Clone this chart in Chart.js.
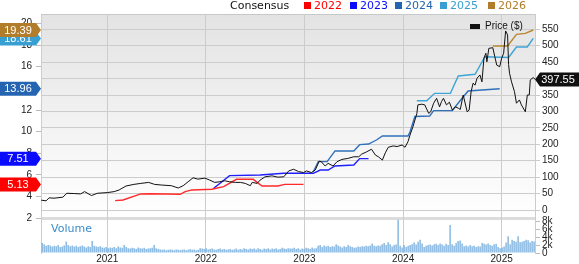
<!DOCTYPE html>
<html>
<head>
<meta charset="utf-8">
<script src="https://cdn.jsdelivr.net/npm/chart.js@4"></script>
<style>
  html, body { margin: 0; padding: 0; background: #fff; }
  canvas { display: block; }
</style>
</head>
<body>
<canvas id="chart" width="579" height="264"></canvas>
<script>
// x values are fractional years
const yearTicks = [2021, 2022, 2023, 2024, 2025];
const epsTicks = [2, 4, 6, 8, 10, 12, 14, 16, 18, 20];
const priceTicks = [0, 50, 100, 150, 200, 250, 300, 350, 400, 450, 500, 550];
const volTicks = [0, 2, 4, 6, 8];

const eps2022Dates = [2021.08, 2021.16, 2021.34, 2021.44, 2021.74, 2021.79, 2021.86, 2022.06, 2022.18, 2022.31, 2022.48, 2022.57, 2022.73, 2022.80, 2022.99];
const eps2022 = [3.63, 3.69, 4.25, 4.27, 4.22, 4.46, 4.62, 4.68, 4.92, 5.60, 5.60, 4.98, 4.98, 5.13, 5.13];

const eps2023Dates = [2022.08, 2022.24, 2022.55, 2022.79, 2023.09, 2023.16, 2023.24, 2023.31, 2023.50, 2023.56, 2023.65];
const eps2023 = [4.77, 5.94, 6.00, 6.16, 6.16, 6.46, 6.46, 6.83, 6.92, 7.51, 7.51];

const eps2024Dates = [2023.09, 2023.14, 2023.23, 2023.31, 2023.50, 2023.56, 2023.65, 2023.73, 2023.79, 2024.05, 2024.07, 2024.12, 2024.27, 2024.31, 2024.50, 2024.58, 2024.66, 2024.98];
const eps2024 = [6.30, 7.23, 7.23, 8.22, 8.22, 8.80, 8.86, 9.23, 9.60, 9.60, 9.97, 11.40, 11.45, 11.94, 11.96, 12.88, 13.76, 13.96];

const eps2025Dates = [2024.14, 2024.24, 2024.32, 2024.48, 2024.56, 2024.73, 2024.83, 2025.07, 2025.15, 2025.26, 2025.32];
const eps2025 = [12.86, 12.86, 13.54, 13.54, 15.14, 15.30, 16.92, 16.85, 17.82, 17.82, 18.61];

const eps2026Dates = [2024.91, 2025.06, 2025.15, 2025.24, 2025.32];
const eps2026 = [17.91, 17.91, 18.99, 19.08, 19.39];

const priceDates = [
  2020.33, 2020.38, 2020.41, 2020.46, 2020.55, 2020.59, 2020.67, 2020.73, 2020.77, 2020.84, 2020.90,
  2021.00, 2021.07, 2021.12, 2021.19, 2021.27, 2021.34, 2021.42, 2021.48, 2021.55, 2021.65, 2021.72,
  2021.77, 2021.82, 2021.87, 2021.92, 2021.99, 2022.04, 2022.09, 2022.14, 2022.19, 2022.24, 2022.30,
  2022.35, 2022.40, 2022.45, 2022.47, 2022.52, 2022.55, 2022.60, 2022.67, 2022.73, 2022.79, 2022.84,
  2022.89, 2022.94, 2022.99, 2023.02, 2023.07, 2023.11, 2023.15, 2023.17, 2023.21, 2023.24, 2023.29,
  2023.33, 2023.38, 2023.44, 2023.50, 2023.55, 2023.58, 2023.63, 2023.68, 2023.72, 2023.75, 2023.79,
  2023.82, 2023.85, 2023.90, 2023.94, 2023.99, 2024.02, 2024.05, 2024.07, 2024.10, 2024.14, 2024.15,
  2024.19, 2024.22, 2024.26, 2024.28, 2024.31, 2024.34, 2024.37, 2024.39, 2024.41, 2024.44, 2024.47,
  2024.50, 2024.53, 2024.56, 2024.58, 2024.61, 2024.65, 2024.67, 2024.69, 2024.71, 2024.73, 2024.75,
  2024.78, 2024.80, 2024.82, 2024.84, 2024.85, 2024.87, 2024.91, 2024.93, 2024.95, 2024.98, 2025.00,
  2025.02, 2025.04, 2025.06, 2025.07, 2025.08, 2025.10, 2025.13, 2025.15, 2025.18, 2025.20, 2025.24,
  2025.26, 2025.28, 2025.29, 2025.32, 2025.34
];
const price = [
  30, 28, 37, 36, 39, 51, 50, 49, 56, 44, 51,
  53, 56, 61, 73, 78, 81, 84, 78, 76, 74, 67,
  74, 86, 98, 94, 97, 91, 84, 86, 89, 86, 84,
  84, 81, 74, 84, 81, 91, 101, 104, 100, 101, 119,
  124, 117, 114, 119, 114, 122, 149, 147, 134, 142, 134,
  147, 154, 157, 162, 162, 170, 177, 185, 167, 162, 152,
  174, 191, 195, 193, 198, 191, 208, 228, 253, 294, 320,
  322, 320, 294, 299, 325, 340, 314, 330, 340, 320, 328,
  304, 314, 310, 306, 350, 299, 304, 360, 386, 380, 401,
  411, 390, 462, 477, 451, 492, 494, 467, 441, 436, 462,
  477, 545, 533, 443, 416, 390, 360, 325, 335, 320, 299,
  350, 350, 396, 403, 397.55
];

// weekly volume, thousands
const volStart = 2020.34;
const volStep = 0.02028;
const volume = [
  2.5, 2.2, 1.8, 2.0, 1.9, 1.6, 1.8, 1.7, 2.0, 1.5, 1.6, 1.9, 2.9,
  2.0, 1.7, 1.9, 1.6, 1.8, 1.5, 1.7, 1.9, 1.6, 1.4, 1.7, 1.5,
  3.0, 1.8, 1.6, 1.5, 1.7, 1.4, 1.3, 1.5,
  1.2, 1.4, 1.3, 1.5, 1.2, 1.6, 1.4, 1.3, 2.0, 1.5, 1.2, 1.1, 1.3, 1.2, 1.0, 1.4, 1.2, 1.1, 1.3, 1.0, 1.1, 1.2,
  1.3, 2.0, 1.2, 1.0, 0.9, 0.8, 0.9, 0.7, 0.8, 0.9, 0.8, 0.7, 0.9, 0.8, 0.7, 0.8, 0.9, 0.7, 0.8, 1.0, 0.8, 0.9, 0.7, 0.8, 1.2,
  1.1, 1.0, 1.2, 0.9, 1.0, 1.1, 0.9, 0.8, 1.0, 1.1, 0.9, 1.0, 0.8, 0.9, 1.0, 0.8, 0.9, 1.1, 0.8, 1.0, 0.9, 1.2, 1.0, 0.9, 1.1,
  1.0, 1.1, 0.9, 1.2, 1.0, 0.8, 1.1, 1.0, 1.2, 0.9, 1.1, 1.0, 1.2, 0.9, 1.0, 1.3, 1.1, 1.0, 1.2, 1.1,
  1.1, 1.3, 1.0, 1.2, 0.9, 1.1, 1.0, 1.3, 1.2, 1.0, 1.4, 1.1, 1.2,
  1.8, 2.0, 1.5, 1.9, 1.6, 1.8, 1.5, 1.7, 1.6,
  2.2, 1.9, 1.6, 1.4, 1.7, 1.5,
  2.0, 1.7, 1.5, 1.3, 1.4, 1.6, 1.5, 1.7, 1.6, 1.8, 1.7, 1.9,
  2.4, 1.8, 1.7, 1.9, 1.8, 2.2, 2.5, 2.0, 2.7, 2.2, 1.6, 2.0, 2.1,
  8.3,
  1.8, 1.4, 2.0, 1.5, 1.8, 2.0, 2.2, 2.6, 2.1,
  2.8, 3.3, 2.4, 1.5,
  1.8, 2.0, 2.1, 1.9, 2.2, 2.3, 2.0, 2.4, 2.1, 1.8, 2.3, 2.0,
  7.0,
  2.2, 1.8, 2.5,
  3.0, 3.1, 2.4,
  1.7, 1.9, 1.6, 2.0, 1.7, 1.8, 1.5, 1.7, 1.6,
  2.5, 2.3, 2.1, 2.4, 2.0, 1.8, 2.2,
  2.3, 1.5, 1.2,
  1.4, 1.6, 2.6,
  4.2,
  2.2, 3.3, 3.0, 2.8,
  4.2,
  2.7, 2.8, 3.0,
  3.3, 3.2, 2.6, 3.0, 2.9
];

const series = [
  { label: "2022", dates: eps2022Dates, values: eps2022, color: "#ff2a2a", badge: "#ff0000" },
  { label: "2023", dates: eps2023Dates, values: eps2023, color: "#2020ff", badge: "#0a0aff" },
  { label: "2024", dates: eps2024Dates, values: eps2024, color: "#3070bb", badge: "#2464b0" },
  { label: "2025", dates: eps2025Dates, values: eps2025, color: "#3ea5d8", badge: "#389fd2" },
  { label: "2026", dates: eps2026Dates, values: eps2026, color: "#b8862f", badge: "#b27d2a" }
];

const pts = (xs, ys) => xs.map((x, i) => ({ x: x, y: ys[i] }));
const fixTicks = list => scale => { scale.ticks = list.map(v => ({ value: v })); };
const tickFont = { family: "'Liberation Sans', Arial, sans-serif", size: 10 };

const datasets = series.map(s => ({
  label: s.label,
  data: pts(s.dates, s.values),
  yAxisID: "eps",
  borderColor: s.color,
  borderWidth: 1.4,
  pointRadius: 0,
  tension: 0,
  order: 2
}));
datasets.push({
  label: "Price ($)",
  data: pts(priceDates, price),
  yAxisID: "price",
  borderColor: "#111",
  borderWidth: 1,
  pointRadius: 0,
  tension: 0,
  order: 1
});
datasets.push({
  type: "bar",
  label: "Volume",
  data: pts(volume.map((v, i) => volStart + i * volStep), volume),
  yAxisID: "vol",
  backgroundColor: "#7fb3df",
  barPercentage: 0.7,
  categoryPercentage: 1,
  order: 3
});

const roundRight = (ctx, x, yc, h, w, tip) => {
  ctx.beginPath();
  ctx.moveTo(x, yc - h / 2);
  ctx.lineTo(x + w, yc - h / 2);
  ctx.lineTo(x + w + tip, yc);
  ctx.lineTo(x + w, yc + h / 2);
  ctx.lineTo(x, yc + h / 2);
  ctx.closePath();
};

const decor = {
  id: "decor",
  beforeDraw(chart) {
    const { ctx, chartArea: a, scales } = chart;
    const split = scales.vol.top;
    ctx.save();
    const g = ctx.createLinearGradient(0, a.top, 0, split);
    g.addColorStop(0, "#e3e3e3");
    g.addColorStop(1, "#ffffff");
    ctx.fillStyle = g;
    ctx.fillRect(a.left, a.top, a.right - a.left, split - a.top);
    ctx.fillStyle = "#dcdcdc";
    ctx.fillRect(a.left, split - 1, a.right - a.left, 3);
    ctx.strokeStyle = "#c8c8c8";
    ctx.lineWidth = 1;
    ctx.beginPath();
    ctx.moveTo(a.left, a.top + 0.5);
    ctx.lineTo(a.right, a.top + 0.5);
    ctx.stroke();
    ctx.restore();
  },
  afterDraw(chart) {
    const { ctx, chartArea: a, scales } = chart;
    ctx.save();
    ctx.textBaseline = "middle";

    // top legend
    ctx.font = "11px 'DejaVu Sans', sans-serif";
    ctx.fillStyle = "#111";
    ctx.textAlign = "left";
    ctx.fillText("Consensus", 230, 6);
    const boxX = [304, 350, 395, 440, 488];
    series.forEach((s, i) => {
      ctx.fillStyle = s.badge;
      ctx.fillRect(boxX[i], 2, 7, 7);
      ctx.fillText(s.label, boxX[i] + 10, 6);
    });

    // price legend
    ctx.fillStyle = "#111";
    ctx.fillRect(470, 24, 10, 5);
    ctx.font = "10px 'Liberation Sans', Arial, sans-serif";
    ctx.fillText("Price ($)", 485, 26.5);

    // volume label
    ctx.font = "11px 'DejaVu Sans', sans-serif";
    ctx.fillStyle = "#3b8ccb";
    ctx.fillText("Volume", 51, 229);

    // left badges with the latest estimates
    ctx.font = "11px 'Liberation Sans', Arial, sans-serif";
    ctx.textAlign = "center";
    series.forEach(s => {
      const v = s.values[s.values.length - 1];
      const y = scales.eps.getPixelForValue(v);
      ctx.fillStyle = s.badge;
      roundRight(ctx, 0, y, 14, 36, 5);
      ctx.fill();
      ctx.fillStyle = "#fff";
      ctx.fillText(v.toFixed(2), 18, y + 0.5);
    });

    // right badge with the last price
    const last = price[price.length - 1];
    const py = scales.price.getPixelForValue(last);
    ctx.fillStyle = "#111";
    ctx.beginPath();
    ctx.moveTo(a.right, py);
    ctx.lineTo(a.right + 5, py - 7);
    ctx.lineTo(579, py - 7);
    ctx.lineTo(579, py + 7);
    ctx.lineTo(a.right + 5, py + 7);
    ctx.closePath();
    ctx.fill();
    ctx.fillStyle = "#fff";
    ctx.fillText(last.toFixed(2), 558, py + 0.5);
    ctx.restore();
  }
};

new Chart(document.getElementById("chart"), {
  type: "line",
  data: { datasets: datasets },
  plugins: [decor],
  options: {
    responsive: false,
    animation: false,
    layout: { padding: { top: 14, left: 0, right: 0, bottom: 0 } },
    plugins: { legend: { display: false }, tooltip: { enabled: false } },
    scales: {
      x: {
        type: "linear",
        offset: false,
        min: 2020.328,
        max: 2025.338,
        afterBuildTicks: fixTicks(yearTicks),
        afterFit: s => { s.height = 11; },
        ticks: { callback: v => String(v), font: tickFont, color: "#222", padding: 0, maxRotation: 0, autoSkip: false },
        grid: { color: "#cccccc", drawTicks: false, offset: false },
        border: { display: false }
      },
      eps: {
        type: "linear",
        position: "left",
        min: -1.204,
        max: 20.868,
        afterBuildTicks: fixTicks(epsTicks),
        afterFit: s => { s.width = 41; },
        ticks: { font: tickFont, color: "#222", padding: 4, autoSkip: false },
        grid: { drawOnChartArea: false, tickLength: 5, color: "#bbbbbb" },
        border: { color: "#cccccc" }
      },
      price: {
        type: "linear",
        position: "right",
        stack: "right",
        stackWeight: 204,
        min: -24.3,
        max: 596.5,
        afterBuildTicks: fixTicks(priceTicks),
        afterFit: s => { s.width = 44; },
        ticks: { font: tickFont, color: "#222", padding: 2, autoSkip: false },
        grid: { color: "#cccccc", tickLength: 5 },
        border: { color: "#cccccc" }
      },
      vol: {
        type: "linear",
        position: "right",
        stack: "right",
        stackWeight: 35,
        min: 0,
        max: 8.75,
        afterBuildTicks: fixTicks(volTicks),
        afterFit: s => { s.width = 44; },
        ticks: { font: tickFont, color: "#222", padding: 2, autoSkip: false, callback: v => v === 0 ? "0" : v + "k" },
        grid: { drawOnChartArea: false, tickLength: 5, color: "#bbbbbb" },
        border: { color: "#cccccc" }
      }
    }
  }
});
</script>
</body>
</html>
